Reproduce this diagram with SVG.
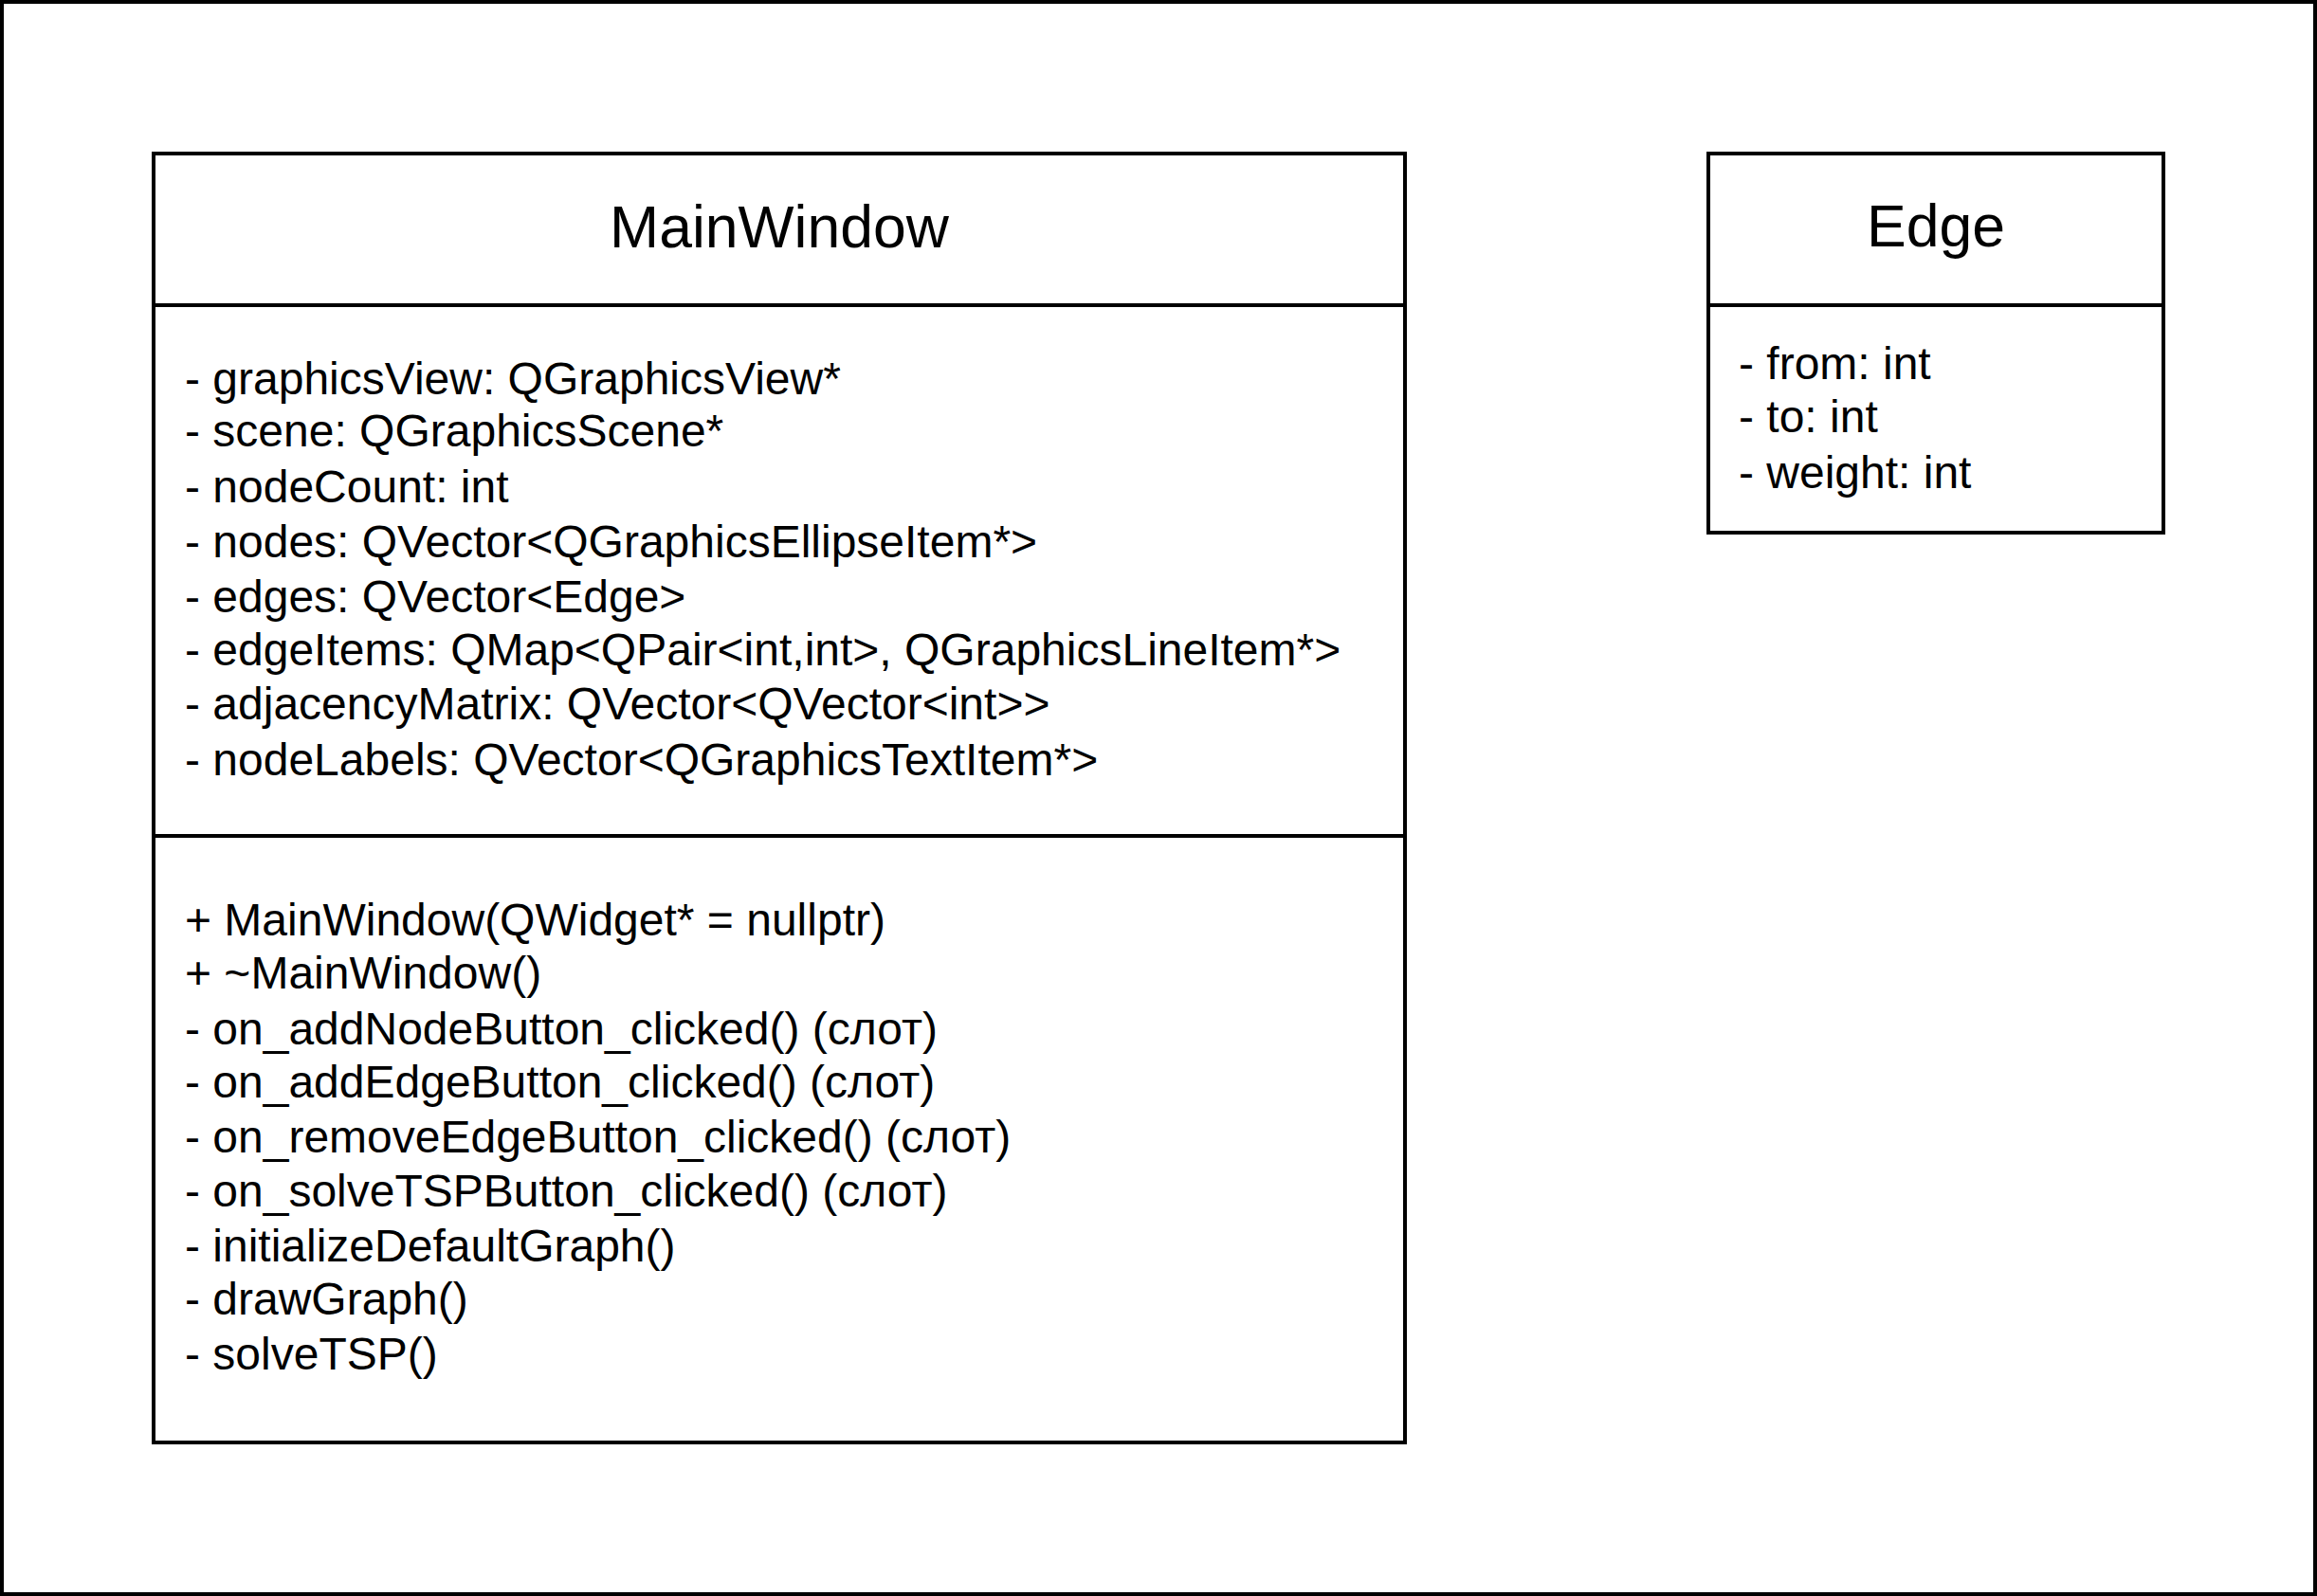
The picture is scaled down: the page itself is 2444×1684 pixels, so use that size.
<svg xmlns="http://www.w3.org/2000/svg" width="2444" height="1684" viewBox="0 0 2444 1684">
<style>
.box{fill:#ffffff;stroke:#000000;stroke-width:4}
.div{stroke:#000000;stroke-width:4;fill:none}
.title{font-family:"Liberation Sans",Arial,Helvetica,sans-serif;font-size:62.5px;fill:#000000;text-anchor:middle}
.t{font-family:"Liberation Sans",Arial,Helvetica,sans-serif;font-size:48px;fill:#000000}
</style>
<rect x="0" y="0" width="2444" height="1684" fill="#ffffff"/>
<rect x="2" y="2" width="2440" height="1680" fill="none" stroke="#000000" stroke-width="4"/>
<g id="MainWindow">
<rect class="box" x="162" y="162" width="1320" height="1360"/>
<line class="div" x1="162" y1="322" x2="1482" y2="322"/>
<line class="div" x1="162" y1="882" x2="1482" y2="882"/>
<text class="title" x="822" y="261">MainWindow</text>
<text class="t" x="195" y="416">- graphicsView: QGraphicsView*</text>
<text class="t" x="195" y="471">- scene: QGraphicsScene*</text>
<text class="t" x="195" y="530">- nodeCount: int</text>
<text class="t" x="195" y="588">- nodes: QVector&lt;QGraphicsEllipseItem*&gt;</text>
<text class="t" x="195" y="646">- edges: QVector&lt;Edge&gt;</text>
<text class="t" x="195" y="702">- edgeItems: QMap&lt;QPair&lt;int,int&gt;, QGraphicsLineItem*&gt;</text>
<text class="t" x="195" y="759">- adjacencyMatrix: QVector&lt;QVector&lt;int&gt;&gt;</text>
<text class="t" x="195" y="818">- nodeLabels: QVector&lt;QGraphicsTextItem*&gt;</text>
<text class="t" x="195" y="987">+ MainWindow(QWidget* = nullptr)</text>
<text class="t" x="195" y="1043">+ ~MainWindow()</text>
<text class="t" x="195" y="1102">- on_addNodeButton_clicked() (слот)</text>
<text class="t" x="195" y="1158">- on_addEdgeButton_clicked() (слот)</text>
<text class="t" x="195" y="1216">- on_removeEdgeButton_clicked() (слот)</text>
<text class="t" x="195" y="1273">- on_solveTSPButton_clicked() (слот)</text>
<text class="t" x="195" y="1331">- initializeDefaultGraph()</text>
<text class="t" x="195" y="1387">- drawGraph()</text>
<text class="t" x="195" y="1445">- solveTSP()</text>
</g>
<g id="Edge">
<rect class="box" x="1802" y="162" width="480" height="400"/>
<line class="div" x1="1802" y1="322" x2="2282" y2="322"/>
<text class="title" x="2042" y="260">Edge</text>
<text class="t" x="1834" y="400">- from: int</text>
<text class="t" x="1834" y="456">- to: int</text>
<text class="t" x="1834" y="515">- weight: int</text>
</g>
<g id="connectors"></g>
</svg>
